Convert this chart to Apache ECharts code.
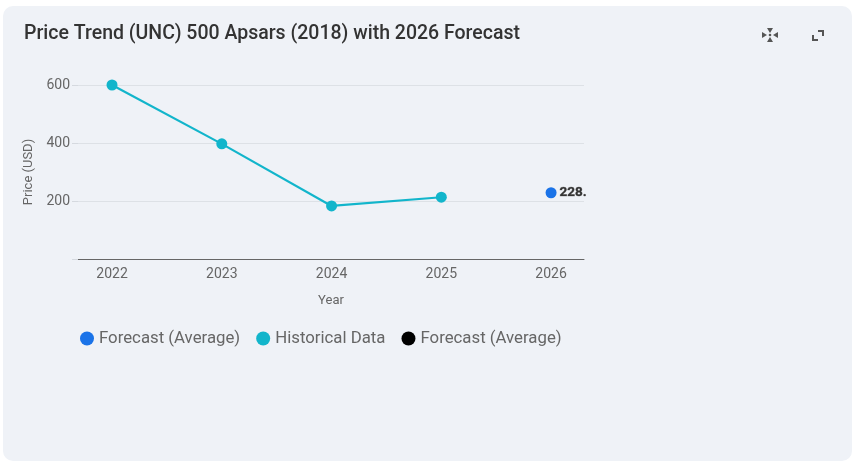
<!DOCTYPE html>
<html lang="en">
<head>
    <meta charset="UTF-8">
    <title>Price Trend (UNC) 500 Apsars (2018)</title>
    <script type="text/javascript" src="https://cdn.jsdelivr.net/npm/echarts@6/dist/echarts.min.js"></script>
    <style>
        html, body { margin: 0; padding: 0; background: #fff; }
        #card {
            position: absolute; left: 3px; top: 6px; width: 849px; height: 455px;
            background: #eff2f7; border-radius: 10px;
        }
        #main { position: absolute; left: 0; top: 0; width: 857px; height: 468px; }
    </style>
</head>
<body>
<div id="card"></div>
<div id="main"></div>

<script type="text/javascript">
    // data
    var years = [2022, 2023, 2024, 2025];
    var prices = [600, 397, 183, 213];
    var forecastYear = 2026;
    var forecastPrice = 228.47;
    var yearLabels = [2022, 2023, 2024, 2025, 2026];
    var priceTicks = [0, 200, 400, 600];

    var histData = [];
    for (var i = 0; i < years.length; i++) {
        histData.push([years[i], prices[i]]);
    }

    var myChart = echarts.init(document.getElementById('main'));

    // little icons at the top right of the card
    function arrow(x, y, dx, dy) {
        return {
            type: 'polygon', silent: true,
            shape: { points: dy === 0
                ? [[x, y - 3], [x, y + 3], [x + dx, y]]
                : [[x - 3, y], [x + 3, y], [x, y + dy]] },
            style: { fill: '#555' }
        };
    }

    var option = {
        textStyle: { fontFamily: 'Roboto, "Noto Sans", sans-serif' },
        title: {
            text: 'Price Trend (UNC) 500 Apsars (2018) with 2026 Forecast',
            left: 24, top: 24, padding: 0,
            textStyle: { fontSize: 19.5, fontWeight: 500, color: '#333' }
        },
        legend: {
            left: 75, top: 325,
            icon: 'circle',
            itemWidth: 14, itemHeight: 14, itemGap: 16,
            textStyle: { fontSize: 16.8, color: '#666' },
            data: ['Forecast (Average)', 'Historical Data', 'Forecast (Average) ']
        },
        grid: { left: 78, right: 273, top: 85, bottom: 209 },
        xAxis: {
            type: 'value',
            min: 2021.69, max: 2026.3,
            name: 'Year', nameLocation: 'middle', nameGap: 35,
            nameTextStyle: { fontSize: 13, color: '#666' },
            axisLine: { show: true, lineStyle: { color: '#666' } },
            axisTick: { show: false },
            splitLine: { show: false },
            axisLabel: {
                customValues: yearLabels,
                formatter: function (v) { return String(v); },
                fontSize: 14, color: '#666', margin: 8
            }
        },
        yAxis: {
            type: 'value',
            min: priceTicks[0], max: priceTicks[priceTicks.length - 1], interval: 200,
            name: 'Price (USD)', nameLocation: 'middle', nameGap: 41,
            nameTextStyle: { fontSize: 13, color: '#666' },
            axisLine: { show: false },
            axisTick: { show: true, length: 6, lineStyle: { color: '#d5d9df' } },
            splitLine: { lineStyle: { color: '#dde1e6' } },
            axisLabel: {
                fontSize: 14, color: '#666', margin: 8,
                formatter: function (v) { return v === 0 ? '' : String(v); }
            }
        },
        series: [
            {
                name: 'Forecast (Average)',
                type: 'scatter',
                symbolSize: 11,
                itemStyle: { color: '#1a73e8', opacity: 1 },
                label: {
                    show: true, position: 'right', distance: 3,
                    formatter: function (p) { return String(p.value[1]); },
                    width: 30, overflow: 'truncate', ellipsis: '',
                    fontSize: 13.5, fontWeight: 'bold', color: '#333',
                    textBorderColor: '#888', textBorderWidth: 0.6
                },
                data: [[forecastYear, forecastPrice]]
            },
            {
                name: 'Historical Data',
                type: 'line',
                symbol: 'circle',
                symbolSize: 11,
                lineStyle: { width: 2.2, color: '#12b5cb' },
                itemStyle: { color: '#12b5cb' },
                data: histData
            },
            {
                name: 'Forecast (Average) ',
                type: 'line',
                itemStyle: { color: '#000' },
                data: []
            }
        ],
        graphic: [
            // compress icon
            arrow(770, 28, 0, 5), arrow(770, 42, 0, -5),
            arrow(762, 35, 5, 0), arrow(778, 35, -5, 0),
            { type: 'circle', silent: true, shape: { cx: 770, cy: 35, r: 1.3 }, style: { fill: '#555' } },
            // expand icon
            { type: 'polyline', silent: true, shape: { points: [[818, 31], [823, 31], [823, 36]] },
              style: { stroke: '#555', lineWidth: 2, fill: null } },
            { type: 'polyline', silent: true, shape: { points: [[813, 35], [813, 40], [818, 40]] },
              style: { stroke: '#555', lineWidth: 2, fill: null } }
        ]
    };

    myChart.setOption(option);
</script>
</body>
</html>
